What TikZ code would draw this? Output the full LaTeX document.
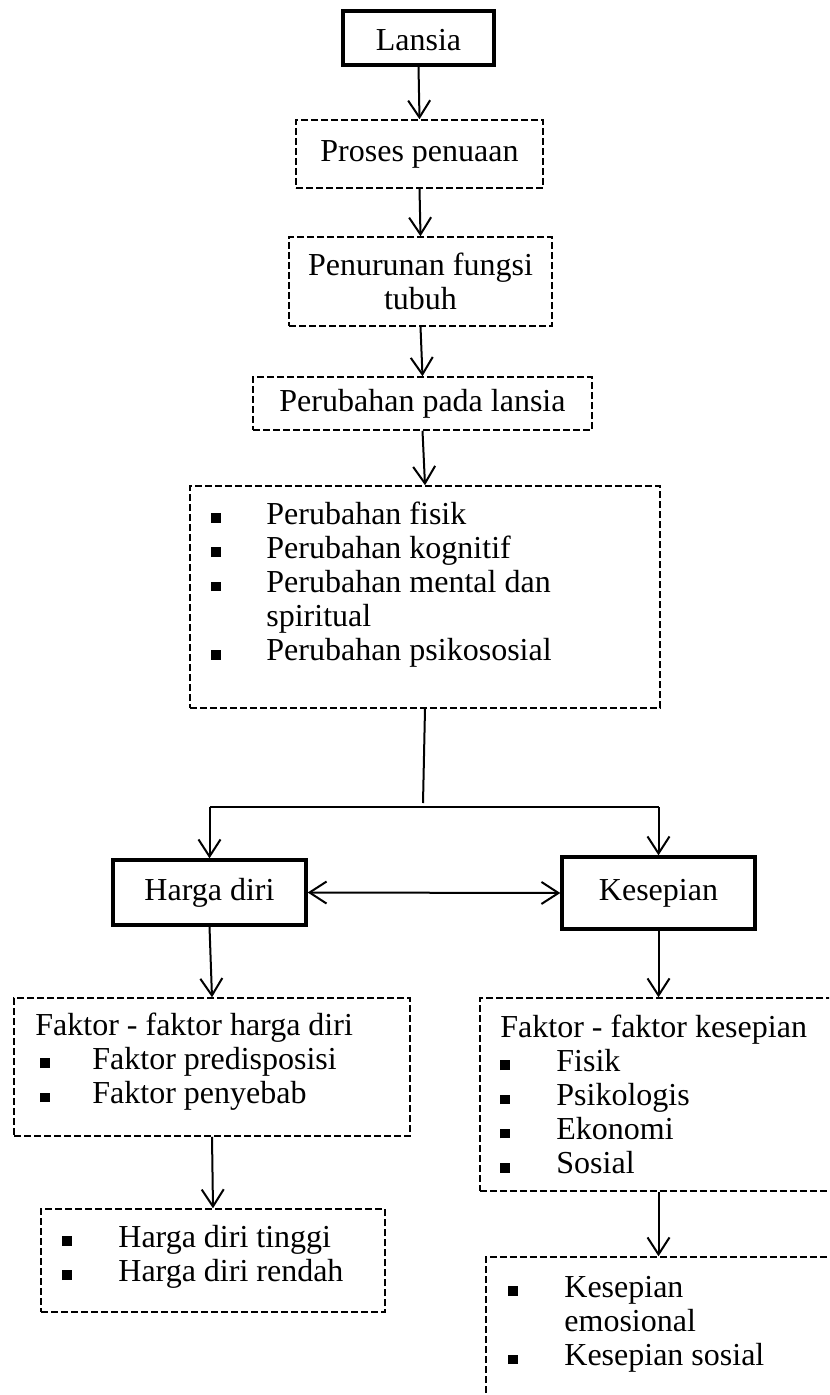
\documentclass[tikz,border=0pt]{standalone}
\usepackage{fontspec}
\setmainfont{Liberation Serif}
\usetikzlibrary{arrows.meta,positioning}
\newcommand{\sqbul}{\rule[0.6pt]{4.8pt}{4.8pt}}

\begin{document}
\begin{tikzpicture}[x=0.5pt,y=-0.5pt,
		every node/.style={font=\fontsize{16}{17.1}\selectfont},
		solidbox/.style={draw,line width=1.7pt,inner sep=0pt},
		dashbox/.style={draw,line width=0.75pt,dash pattern=on 3.3pt off 1.7pt,inner sep=0pt},
		listtext/.style={anchor=base west,inner sep=0pt},
		link/.style={line width=1pt,-{Straight Barb[length=8.5pt,width=11pt]}},
		bilink/.style={line width=1pt,{Straight Barb[length=8.5pt,width=11pt]}-{Straight Barb[length=8.5pt,width=11pt]}}]
		\useasboundingbox (0,0) rectangle (829,1395);
		\clip (0,0) rectangle (829,1395);
		\node (lansia) [solidbox,minimum width=75.5pt,minimum height=27pt,text height=13pt,text depth=0pt] at (418.5,38) {Lansia};
		\node (proses) [dashbox,minimum width=123.5pt,minimum height=34pt] at (419.5,154) {Proses penuaan};
		\node (turun) [dashbox,minimum width=131.5pt,minimum height=44.5pt,align=center] at (420.5,281.5) {Penurunan fungsi\\tubuh};
		\node (ubah) [dashbox,minimum width=169.5pt,minimum height=26.5pt] at (422.5,403.5) {Perubahan pada lansia};
		\node (perbox) [dashbox,minimum width=235pt,minimum height=111pt] at (425,597) {};
		\node (perlist) [listtext] at (211,524) {\begin{tabular}[t]{@{}p{27.5pt}@{}l@{}}
			\sqbul & Perubahan fisik\\
			\sqbul & Perubahan kognitif\\
			\sqbul & Perubahan mental dan\\
			& spiritual\\
			\sqbul & Perubahan psikososial
		\end{tabular}};
		\node (harga) [solidbox,minimum width=96.5pt,minimum height=32.5pt] at (209.5,892.5) {Harga diri};
		\node (sepi) [solidbox,minimum width=96.5pt,minimum height=36pt] at (658.5,893) {Kesepian};
		\node (fhd) [dashbox,minimum width=198pt,minimum height=69pt] at (212,1067) {};
		\node (fhdlist) [listtext] at (35,1035) {\begin{tabular}[t]{@{}p{28.5pt}@{}l@{}}
			\multicolumn{2}{@{}l@{}}{Faktor - faktor harga diri}\\
			\hspace*{2.5pt}\sqbul & Faktor predisposisi\\
			\hspace*{2.5pt}\sqbul & Faktor penyebab
		\end{tabular}};
		\node (hdt) [dashbox,minimum width=172pt,minimum height=51.5pt] at (213,1260.5) {};
		\node (hdtlist) [listtext] at (62,1247) {\begin{tabular}[t]{@{}p{28pt}@{}l@{}}
			\sqbul & Harga diri tinggi\\
			\sqbul & Harga diri rendah
		\end{tabular}};
		\node (fks) [dashbox,minimum width=260pt,minimum height=96.5pt] at (740,1094.5) {};
		\node (fkslist) [listtext] at (500,1037) {\begin{tabular}[t]{@{}p{28pt}@{}l@{}}
			\multicolumn{2}{@{}l@{}}{Faktor - faktor kesepian}\\
			\sqbul & Fisik\\
			\sqbul & Psikologis\\
			\sqbul & Ekonomi\\
			\sqbul & Sosial
		\end{tabular}};
		\node (kem) [dashbox,minimum width=257pt,minimum height=121.5pt] at (743,1378.5) {};
		\node (kemlist) [listtext] at (508,1297) {\begin{tabular}[t]{@{}p{28pt}@{}l@{}}
			\sqbul & Kesepian\\
			& emosional\\
			\sqbul & Kesepian sosial
		\end{tabular}};
		\coordinate (split) at (423,803);
		\coordinate (hbar) at (425,807);
		\draw [link] (lansia.south) -- (proses.north);
		\draw [link] (proses.south) -- (turun.north);
		\draw [link] (turun.south) -- (ubah.north);
		\draw [link] (ubah.south) -- (perbox.north);
		\draw [line width=1pt] (perbox.south) -- (split);
		\draw [line width=1pt] (harga.north |- hbar) -- (sepi.north |- hbar);
		\draw [link] (harga.north |- hbar) -- (harga.north);
		\draw [link] (sepi.north |- hbar) -- (sepi.north);
		\draw [bilink] (harga.east) -- (sepi.west);
		\draw [link] (harga.south) -- (fhd.north);
		\draw [link] (fhd.south) -- (hdt.north);
		\draw [link] (sepi.south) -- (sepi.south |- fks.north);
		\draw [link] (sepi.south |- fks.south) -- (sepi.south |- kem.north);
	\end{tikzpicture}
\end{document}
